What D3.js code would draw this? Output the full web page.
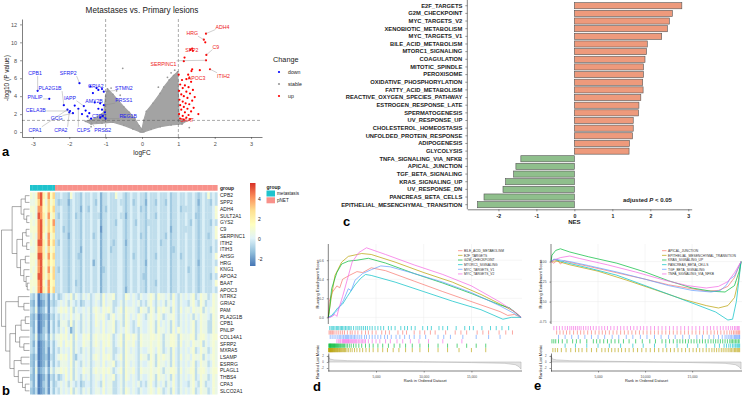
<!doctype html>
<html lang="en">
<head>
<meta charset="utf-8">
<title>Metastases vs. Primary lesions</title>
<style>
  body { margin: 0; background: #fff; }
  svg { display: block; font-family: "Liberation Sans", Arial, sans-serif; }
</style>
</head>
<body>
<div id="fig"></div>
<script src="https://d3js.org/d3.v7.min.js"></script>
<script>

//------------------ data: volcano (a)
// [logFC, -log10 p]
var upPoints = [[1.76,10.97],[1.70,10.3],[1.74,10.0],[1.38,9.3],[1.33,9.15],[1.40,9.05],[1.77,8.6],[1.76,8.0],
  [1.17,8.3],[1.15,7.9],[1.59,6.9],[1.38,7.0],[1.36,6.8],[1.87,7.0],[1.01,6.4],[1.27,6.4],[1.30,6.0],[1.22,5.9],
  [1.10,5.8],[1.35,5.6],[1.05,5.3],[1.18,5.2],[1.28,5.0],[1.12,4.9],[1.40,4.7],[1.02,4.6],[1.22,4.5],[1.32,4.3],
  [1.08,4.2],[1.15,4.0],[1.45,3.9],[1.25,3.8],[1.03,3.6],[1.38,3.5],[1.12,3.4],[1.20,3.2],[1.30,3.1],[1.05,3.0],
  [1.15,2.8],[1.42,2.7],[1.25,2.6],[1.08,2.5],[1.35,2.3],[1.18,2.2],[1.55,2.0],[1.02,2.0],[1.28,1.9],[1.12,1.8],
  [1.22,1.6],[1.05,1.5],[1.15,1.4],[1.32,1.45]];
var downPoints = [[-2.87,4.6],[-2.55,3.7],[-1.72,5.45],[-2.15,3.0],[-1.85,2.95],[-2.05,2.5],[-1.98,2.35],[-1.9,2.1],
  [-2.0,2.2],[-1.75,2.6],[-1.65,2.0],[-1.6,2.9],[-1.35,4.35],[-1.42,5.1],[-1.25,4.9],[-1.2,4.7],[-1.1,4.8],[-1.05,4.5],
  [-1.5,1.75],[-1.4,1.5],[-1.15,3.2],[-1.05,3.0],[-1.1,2.5],[-1.02,2.2],[-1.08,1.8],[-1.0,1.5],[-1.15,1.6],[-1.3,3.3],
  [-1.2,2.6],[-1.45,2.1],[-1.55,2.4]];
// outline of the dense grey (stable) cloud, and a few loose stable points
var stableOutline = [[-1.55,1.2],[-1.3,1.5],[-1.05,2.2],[-1.0,4.0],[-0.95,4.8],[-0.8,4.2],[-0.65,3.5],[-0.5,2.8],
  [-0.35,2.2],[-0.2,1.5],[-0.08,0.7],[0,0.3],[0.05,1.3],[0.12,2.3],[0.3,3.2],[0.5,4.3],[0.6,5.0],[0.75,5.8],
  [0.87,6.3],[0.98,6.7],[1.0,4.5],[1.02,1.3],[1.2,1.2],[1.1,0.9],[0.8,0.8],[0.5,0.6],[0.25,0.3],[0.05,0.03],
  [0,0],[-0.05,0.03],[-0.25,0.35],[-0.5,0.75],[-0.8,1.1],[-1.1,1.0],[-1.4,0.9]];
var stableLoose = [[-0.53,7.1],[-0.7,4.6],[-0.6,4.1],[0.7,6.1],[0.9,6.9],[0.45,5.0],[-1.25,1.1],[1.1,1.05],
  [-1.4,0.6],[1.3,0.5],[-0.85,4.9],[0.8,6.6]];
// [label, label x, label y, point x, point y]
var downLabels = [["CPB1",-2.94,6.55,-2.87,4.6],["SFRP2",-2.03,6.55,-1.72,5.45],["PLA2G1B",-2.53,4.88,-2.15,3.0],
  ["PNLIP",-2.94,3.94,-2.55,3.7],["IAPP",-1.98,3.8,-1.6,2.9],["CELA3B",-2.92,2.49,-1.98,2.35],["GCG",-2.35,1.49,-1.9,2.1],
  ["CPA1",-2.94,0.23,-2.05,2.5],["CPA2",-2.23,0.23,-2.0,2.2],["CLPS",-1.61,0.23,-1.75,2.6],["PRSS2",-1.08,0.26,-1.5,1.75],
  ["CTRC",-1.18,1.76,-1.15,1.6],["REG1B",-0.38,1.76,-1.0,1.5],["PRSS1",-0.5,3.54,-1.05,3.0],["AMY2B",-1.32,3.46,-1.15,3.2],
  ["GRIA2",-1.27,5.06,-1.25,4.9],["STMN2",-0.5,4.94,-1.05,4.5]];
var upLabels = [["ADH4",2.21,11.74,1.76,10.97],["HRG",1.38,11.0,1.70,10.3],["SPP2",1.37,9.15,1.38,9.3],
  ["C9",2.03,9.51,1.77,8.6],["SERPINC1",0.59,7.59,1.76,8.0],["APOC3",1.5,6.0,1.27,6.4],["ITIH2",2.24,6.25,1.87,7.0],
  ["BAAT",1.24,1.35,1.15,1.4]];
var volcanoXTicks = [-3,-2,-1,0,1,2,3];
var volcanoYTicks = [0,2,4,6,8,10,12];

//------------------ data: heatmap (b)
var hmGenes = ["CPB2","SPP2","ADH4","SULT2A1","GYS2","C9","SERPINC1","ITIH2","ITIH3","AHSG","HRG","KNG1","APOA2","BAAT","APOC3",
  "NTRK2","GRIA2","PAM","PLA2G1B","CPB1","PNLIP","COL14A1","SFRP2","MXRA5","LSAMP","ESRRG","PLAGL1","THBS4","CPA3","SLCO2A1"];
// one character per sample, value = levelVals[levelChars.indexOf(ch)]
var levelChars = "0123456789abc";
var levelVals = [-2.5,-2,-1.5,-1,-0.5,0,0.5,1,1.5,2,3,4,5];
var hmMetastasis = ["767bc97b8a","667ac86a79","776bb87a8a","676cb97b79","767bc96a8b","777bc97a8a","676bc86b79","767cc97b8a",
  "667bb96a79","777cc97b8a","776bc87a89","767bc97b7a","677cc97a8a","777bc86b89","767bc97b8a",
  "4350234153","3250124143","4361235154","3240123143","3250124153","4250134153","4361235264","4250124253","4350124153",
  "3240123143","3250124153","4261235264","3250124143","4250134153","3240124153"];
var hmPnet = [
  "4454437544354 4544524454475 5434544544354 4454445344544 5445434547454",
  "4344424544354 4543524454445 4434534544254 4354435344544 5445424544354",
  "4454434544254 3544524354445 5434544534354 4454445344534 4445434544457",
  "4354434534354 4544424454445 4424544544354 4354445344544 5445334544457",
  "4454434544354 4544524454435 5434543544344 4454445344544 5435434544354",
  "4453434544354 4544514454445 5434544544354 4454445244544 4445434544457",
  "4454424544354 4534524454445 5434544534354 4454435344544 5445434543457",
  "4354434544354 4544524454345 5424544544354 4453445344544 5445434544454",
  "4454434544254 4544524453445 5434544544354 4454445334544 5445434544354",
  "4454434543354 4544524454445 5434534544354 4354445344534 5445434544457",
  "4454434544354 4524524454445 5434544544254 4454445344544 5445424544454",
  "4354434544354 4544523454445 5434544544354 4454445344544 5345434544457",
  "4454434544354 4544524454445 5434544543354 4454445344544 5445434544354",
  "4454434534354 4544524454445 5434544544354 4354445344544 5445434544457",
  "4454434544354 4544524454445 5424544544354 4454445344544 5445434544454",
  "5345657465465 6456647566745 5476565465567 6476656475465 6567457664576",
  "4565646545345 5456547566445 6465565645467 5465646575465 5467547645576",
  "5676757465565 6467657676456 7476665476647 6476766475475 6657667465676",
  "5465657566465 6457667546756 6476565765467 6576456675465 6564657665476",
  "5366647465465 6457657566745 6476545765567 6475656475465 6567457664476",
  "5465752465465 6456657566745 6576545465567 6476656475765 6567457664476",
  "6676757475576 7467667676456 7477676476667 7676466776476 6677467765677",
  "5675767465576 6467657676456 7476675476667 6676466776475 6657667465676",
  "5465657465465 6456657566445 6476565465567 6576456475465 6567457664576",
  "5676757435565 6467657676456 7476665476647 6476766475475 6657667465676",
  "5466657465465 6456657566745 6476565465567 6476656475465 6567457664576",
  "6676757465576 6467667676456 7476675476667 6676466776475 6677467765677",
  "5345757465465 6456657566745 6476565465567 6476656475465 6567457664576",
  "4565646545345 5456547566445 6465565645467 5465646575465 5467547645576",
  "5465657465465 6456657566445 6476565465567 6576456475465 6567457664576"];
// row clustering: h = merge height (0 leaves .. 1 root)
var rowTree = {h:1, c:[
  {h:0.62, c:[
    {h:0.3, c:[{h:0.15, c:["CPB2","SPP2"]}, {h:0.2, c:["ADH4", {h:0.1, c:["SULT2A1","GYS2"]}]}]},
    {h:0.45, c:[
      {h:0.25, c:[{h:0.12, c:["C9","SERPINC1"]}, {h:0.1, c:["ITIH2","ITIH3"]}]},
      {h:0.32, c:[{h:0.15, c:["AHSG","HRG"]}, {h:0.2, c:["KNG1", {h:0.12, c:["APOA2", {h:0.08, c:["BAAT","APOC3"]}]}]}]}]}]},
  {h:0.85, c:[
    {h:0.4, c:["NTRK2", {h:0.2, c:["GRIA2","PAM"]}]},
    {h:0.7, c:[
      {h:0.5, c:[{h:0.3, c:[{h:0.15, c:["PLA2G1B","CPB1"]}, "PNLIP"]}, {h:0.35, c:["COL14A1", {h:0.2, c:["SFRP2","MXRA5"]}]}]},
      {h:0.55, c:[{h:0.3, c:["LSAMP","ESRRG"]}, {h:0.4, c:["PLAGL1", {h:0.25, c:["THBS4", {h:0.15, c:["CPA3","SLCO2A1"]}]}]}]}]}]}]};
var hmLegendTicks = [-2,0,2,4];
var hmPalette = ["#4575B4","#91BFDB","#E0F3F8","#FFFFBF","#FEE090","#FC8D59","#D73027"];

//------------------ data: NES bars (c)
var pathways = ["E2F_TARGETS","G2M_CHECKPOINT","MYC_TARGETS_V2","XENOBIOTIC_METABOLISM","MYC_TARGETS_V1",
  "BILE_ACID_METABOLISM","MTORC1_SIGNALING","COAGULATION","MITOTIC_SPINDLE","PEROXISOME","OXIDATIVE_PHOSPHORYLATION",
  "FATTY_ACID_METABOLISM","REACTIVE_OXYGEN_SPECIES_PATHWAY","ESTROGEN_RESPONSE_LATE","SPERMATOGENESIS","UV_RESPONSE_UP",
  "CHOLESTEROL_HOMEOSTASIS","UNFOLDED_PROTEIN_RESPONSE","ADIPOGENESIS","GLYCOLYSIS","TNFA_SIGNALING_VIA_NFKB",
  "APICAL_JUNCTION","TGF_BETA_SIGNALING","KRAS_SIGNALING_UP","UV_RESPONSE_DN","PANCREAS_BETA_CELLS",
  "EPITHELIAL_MESENCHYMAL_TRANSITION"];
var nesValues = [2.83,2.58,2.50,2.45,2.30,1.92,1.90,1.86,1.82,1.82,1.80,1.81,1.75,1.70,1.69,1.55,1.55,1.53,1.45,1.44,
  -1.41,-1.54,-1.60,-1.81,-1.88,-2.38,-2.55];
var nesTicks = [-2,-1,0,1,2,3];

//------------------ data: GSEA (d, e)   [rank, running ES]
var esBileAcid = [[0,0],[100,0.17],[400,0.26],[900,0.33],[1200,0.31],[1500,0.4],[2200,0.44],[3000,0.48],[3600,0.47],[4500,0.52],[6000,0.49],[9000,0.38],[12000,0.27],[14000,0.2],[16000,0.13],[18000,0.06],[18800,0.02],[19500,0.03],[20200,0]];
var esE2f = [[0,0],[300,0.2],[700,0.44],[1000,0.5],[1400,0.58],[2100,0.64],[3500,0.67],[4500,0.66],[7000,0.58],[10000,0.47],[13000,0.37],[16000,0.24],[18000,0.14],[19500,0.06],[20200,0]];
var esG2m = [[0,0],[100,0.06],[350,0.3],[600,0.38],[900,0.47],[1400,0.56],[2100,0.59],[3000,0.6],[4200,0.62],[6000,0.57],[9000,0.46],[12000,0.36],[15000,0.25],[18000,0.13],[19000,0.1],[20200,0]];
var esMtorc1 = [[0,0],[350,0.02],[700,0.06],[1000,0.1],[1500,0.14],[2000,0.22],[2800,0.34],[3400,0.41],[3900,0.45],[4500,0.44],[7000,0.37],[10000,0.27],[13000,0.17],[16000,0.08],[18300,-0.02],[19200,0.0],[20200,0]];
var esMycV1 = [[0,0],[400,0.01],[700,0.05],[1000,0.08],[1600,0.18],[2100,0.3],[2400,0.28],[2800,0.39],[3600,0.46],[4500,0.5],[5500,0.54],[6500,0.53],[9000,0.46],[12000,0.37],[15000,0.26],[18000,0.12],[19500,0.04],[20200,0]];
var esMycV2 = [[0,0],[200,0.0],[700,0.03],[900,0.01],[1100,0.09],[1500,0.22],[2000,0.4],[2500,0.58],[3200,0.68],[4000,0.73],[6000,0.66],[9000,0.55],[12000,0.45],[15000,0.33],[18000,0.16],[19800,0.04],[20200,0]];
var esApical = [[0,0],[300,-0.02],[700,0.02],[1000,-0.03],[1400,0.01],[2000,-0.01],[4000,-0.06],[7000,-0.14],[10000,-0.22],[12500,-0.29],[15000,-0.34],[16500,-0.37],[17800,-0.36],[18800,-0.31],[19500,-0.2],[20000,-0.05],[20200,0]];
var esEmt = [[0,0],[500,0.01],[2000,-0.04],[5000,-0.12],[8000,-0.23],[11000,-0.35],[14000,-0.47],[16500,-0.55],[17800,-0.58],[18800,-0.55],[19500,-0.45],[19900,-0.25],[20200,0]];
var esKras = [[0,0],[100,0.08],[500,0.14],[1000,0.16],[2000,0.12],[4000,0.06],[7000,-0.02],[10000,-0.13],[12500,-0.24],[15000,-0.33],[17000,-0.37],[18500,-0.38],[19500,-0.3],[20000,-0.12],[20200,0]];
var esPancreas = [[0,0],[300,0.03],[1500,-0.01],[4000,-0.08],[7000,-0.17],[10000,-0.3],[13000,-0.43],[15500,-0.54],[17500,-0.63],[18800,-0.73],[19300,-0.72],[19700,-0.5],[20000,-0.2],[20200,0]];
var esTgf = [[0,0],[400,0.03],[2000,0.0],[4000,-0.05],[7000,-0.13],[10000,-0.22],[12500,-0.3],[15000,-0.36],[17000,-0.38],[18000,-0.36],[18600,-0.3],[19000,-0.22],[19500,-0.18],[19900,-0.08],[20200,0]];
var esTnfa = [[0,0],[300,0.02],[1000,0.05],[2000,0.07],[3000,0.04],[6000,-0.04],[9000,-0.13],[12000,-0.23],[14500,-0.3],[16500,-0.33],[17800,-0.31],[18800,-0.25],[19500,-0.14],[20000,-0.04],[20200,0]];

var hitsMtorc1 = [150,300,420,560,700,850,980,1100,1250,1380,1500,1650,1800,1950,2100,2250,2400,2650,2900,3100,3300,3500,3700,3900,4100,4350,4600,4900,5200,5500,5800,6300,6600,7000,7600,8000,8300,8700,9100,9900,10400,10800,11600,12000,12500,13400,14300,14800,15200,16100,17000,17600,18200,18900];
var hitsBileAcid = [80,200,300,420,520,700,900,1100,1300,1500,1700,2000,2300,2500,2800,3100,3500,3900,4200,4600,5000,5600,6000,6400,7300,7800,8200,9000,9600,10100,10700,11200,12300,13300,13900,14500,15600,16200,16800,17900,18600,19300];
var hitsMycV1 = [200,400,600,800,1000,1150,1300,1450,1600,1750,1850,1950,2050,2150,2300,2450,2600,2750,2900,3100,3300,3500,3800,4000,4300,4600,4900,5200,5500,5900,6200,6600,7100,7500,8000,8500,9000,9600,10200,11500,12100,12800,14100,15500,16800,18000];
var hitsMycV2 = [900,1050,1200,1300,1450,1520,1600,1680,1750,1820,1900,1980,2050,2120,2200,2300,2400,2500,2600,2700,2800,2900,3000,3150,3300,3450,3600,3750,3900,4200,4600,5000,5400,6000,6500,7200,7800,8600,9500,10500,12000,14000];
var hitsG2m = [50,100,140,180,220,260,300,350,400,450,500,550,600,650,700,760,820,880,940,1000,1080,1150,1230,1300,1400,1500,1600,1700,1850,2000,2200,2400,2650,2900,3200,3500,3900,4300,4700,5200,5700,6300,6900,7500,8100,8800,9600,10500,11500,12500,13500,14500,15500,16500];
var hitsE2f = [30,60,100,130,170,200,240,270,310,350,390,430,470,520,570,620,670,720,780,840,900,960,1030,1100,1170,1250,1320,1400,1500,1600,1700,1800,1950,2100,2300,2500,2750,3000,3300,3600,3950,4300,4700,5200,5700,6200,6800,7400,8100,8800,9600,10500,11500,12500,13700,15000,16500];
var hitsTnfa = [300,600,900,1200,1500,1750,2000,2200,2400,2600,2800,3000,3200,3450,3700,3950,4200,4500,4800,5100,5400,5700,6000,6350,6700,7050,7400,7750,8100,8450,8800,9150,9500,9850,10200,10600,11000,11400,11800,12200,12600,13000,13400,13800,14200,14600,15000,15400,15800,16200,16600,16950,17300,17650,18000,18300,18600,18850,19100,19300,19500,19650,19800,19900,20000];
var hitsApical = [600,950,1300,1650,2000,2400,2800,3150,3500,3900,4300,4700,5100,5450,5800,6200,6600,7000,7400,7800,8200,8600,9000,9400,9800,10200,10600,11000,11400,11800,12200,12600,13000,13400,13800,14200,14600,15000,15400,15800,16200,16600,17000,17350,17700,18050,18400,18700,19000,19200,19400,19550,19700,19850,19950,20050];
var hitsTgf = [800,1500,2200,2900,3600,4300,5000,5700,6500,7200,8000,8700,9500,10200,11000,11700,12500,13200,14000,14700,15500,16100,16800,17300,17800,18200,18500,18700,18900,19050,19200,19350,19500,19600,19700,19800,19900,20000,20050];
var hitsKras = [100,300,500,800,1200,1700,2300,2700,3100,3800,4500,4850,5200,5600,6000,6400,6800,7200,7700,8300,9000,9700,10500,11100,11800,12200,12600,13000,13400,13700,14000,14300,14600,14900,15200,15500,15800,16100,16400,16700,17000,17250,17500,17750,18000,18250,18500,18750,19000,19150,19300,19450,19600,19750,19900,20000];
var hitsPancreas = [1500,2600,3800,5000,6200,7400,8700,9800,11000,12200,13400,14500,15600,16500,17400,17900,18400,18650,18900,19100,19300,19450,19600,19750,19850,19950,20050];
var hitsEmt = [200,450,700,1100,1600,2100,2600,2950,3300,3800,4300,4850,5400,5750,6100,6450,6800,7150,7500,7900,8300,8750,9200,9650,10100,10550,11000,11450,11900,12300,12700,13100,13500,13900,14300,14700,15100,15450,15800,16150,16500,16800,17100,17350,17600,17850,18100,18300,18500,18700,18900,19050,19200,19350,19500,19620,19750,19850,19950,20050];
// ranked list metric [rank, value]
var rankMetric = [[0,2.2],[150,1.0],[600,0.7],[2000,0.45],[5000,0.3],[10000,0.05],[15000,-0.2],[18500,-0.45],[19600,-0.9],[20000,-1.6],[20200,-2.4]];
var rankTicks = [5000,10000,15000];
var setColors = ["#F8766D","#B79F00","#00BA38","#00BFC4","#619CFF","#F564E3"];

//------------------ set up svg
var FONT = "'Liberation Sans', Arial, sans-serif";
var svg = d3.select("#fig").append("svg").attr("width", 743).attr("height", 399);

function styleAxis(g, fs, bold) {
  g.attr("font-family", FONT).attr("font-size", fs);
  g.select(".domain").attr("stroke", "#000").attr("stroke-width", 0.5);
  g.selectAll(".tick line").attr("stroke", "#333").attr("stroke-width", 0.5);
  g.selectAll(".tick text").attr("fill", bold ? "#222" : "#4d4d4d").attr("font-weight", bold ? "bold" : null);
}
function panelLabel(t, x, y) {
  svg.append("text").text(t).attr("x", x).attr("y", y).attr("font-size", 13).attr("font-weight", "bold").attr("fill", "#000");
}

//------------------ a: volcano
var xV = d3.scaleLinear().domain([-3.3, 3.3]).range([22, 262]);
var yV = d3.scaleLinear().domain([-0.55, 12.6]).range([137, 19]);
var gA = svg.append("g");

gA.append("path").datum(stableOutline)
  .attr("d", d3.line().x(function(d){ return xV(d[0]); }).y(function(d){ return yV(d[1]); }).curve(d3.curveLinearClosed))
  .attr("fill", "#a3a3a3").attr("stroke", "#a3a3a3").attr("stroke-width", 1.2);
gA.selectAll(".st").data(stableOutline.concat(stableLoose)).enter().append("circle")
  .attr("cx", function(d){ return xV(d[0]); }).attr("cy", function(d){ return yV(d[1]); })
  .attr("r", 0.9).attr("fill", "#999");

[-1, 1].forEach(function(v) {
  gA.append("line").attr("x1", xV(v)).attr("x2", xV(v)).attr("y1", 19).attr("y2", 137)
    .attr("stroke", "#555").attr("stroke-width", 0.5).attr("stroke-dasharray", "3,2");
});
gA.append("line").attr("x1", 22).attr("x2", 262).attr("y1", yV(1.3)).attr("y2", yV(1.3))
  .attr("stroke", "#555").attr("stroke-width", 0.5).attr("stroke-dasharray", "3,2");

gA.selectAll(".up").data(upPoints).enter().append("circle")
  .attr("cx", function(d){ return xV(d[0]); }).attr("cy", function(d){ return yV(d[1]); })
  .attr("r", 1.1).attr("fill", "#ff0000");
gA.selectAll(".dn").data(downPoints).enter().append("circle")
  .attr("cx", function(d){ return xV(d[0]); }).attr("cy", function(d){ return yV(d[1]); })
  .attr("r", 1.1).attr("fill", "#0000ff");

// repelled labels with leader lines
function volcanoLabels(list, col) {
  var lines = gA.append("g"), texts = gA.append("g");
  list.forEach(function(d) {
    var t = texts.append("text").text(d[0]).attr("x", xV(d[1])).attr("y", yV(d[2]) + 1.8)
      .attr("text-anchor", "middle").attr("font-size", 5.2).attr("fill", col);
    var b = t.node().getBBox();
    var px = xV(d[3]), py = yV(d[4]);
    var cx = Math.max(b.x, Math.min(px, b.x + b.width)), cy = Math.max(b.y, Math.min(py, b.y + b.height));
    if (Math.hypot(cx - px, cy - py) > 4) {
      lines.append("line").attr("x1", px).attr("y1", py).attr("x2", cx).attr("y2", cy)
        .attr("stroke", "#888").attr("stroke-width", 0.4);
    }
  });
}
volcanoLabels(downLabels, "#2020ee");
volcanoLabels(upLabels, "#ee2020");

var axVy = gA.append("g").attr("transform", "translate(22,0)")
  .call(d3.axisLeft(yV).tickValues(volcanoYTicks).tickSize(2).tickSizeOuter(0).tickFormat(function(d){ return String(d); }));
styleAxis(axVy, 5.5);
var axVx = gA.append("g").attr("transform", "translate(0,137)")
  .call(d3.axisBottom(xV).tickValues(volcanoXTicks).tickSize(2).tickSizeOuter(0).tickFormat(function(d){ return String(d); }));
styleAxis(axVx, 5.5);

gA.append("text").text("Metastases vs. Primary lesions").attr("x", 142).attr("y", 13)
  .attr("text-anchor", "middle").attr("font-size", 8.2).attr("fill", "#222");
gA.append("text").text("logFC").attr("x", 142).attr("y", 155)
  .attr("text-anchor", "middle").attr("font-size", 6.5).attr("fill", "#222");
gA.append("text").text("-log10 (P value)").attr("transform", "translate(9,78) rotate(-90)")
  .attr("text-anchor", "middle").attr("font-size", 6.5).attr("fill", "#222");

// legend
var changeNames = ["down", "stable", "up"], changeCols = ["#0000ff", "#999", "#ff0000"];
gA.append("text").text("Change").attr("x", 273).attr("y", 62).attr("font-size", 7.3).attr("fill", "#222");
changeNames.forEach(function(n, i) {
  gA.append("circle").attr("cx", 279).attr("cy", 72 + i * 12).attr("r", 1.1).attr("fill", changeCols[i]);
  gA.append("text").text(n).attr("x", 288).attr("y", 74 + i * 12).attr("font-size", 5.2).attr("fill", "#222");
});
panelLabel("a", 2, 156);

//------------------ b: heatmap
var nMeta = hmMetastasis[0].length;
var hmRows = hmGenes.map(function(g, i) {
  var s = hmMetastasis[i] + hmPnet[i].replace(/ /g, "");
  return s.split("").map(function(ch) { return levelVals[levelChars.indexOf(ch)]; });
});
var nCols = hmRows[0].length;
var hmX = d3.scaleBand().domain(d3.range(nCols)).range([30, 217.3]);
var hmY = d3.scaleBand().domain(hmGenes).range([192.3, 394.2]);
var hmColor = d3.scaleLinear().domain(hmPalette.map(function(c, i){ return -2.7 + i * 8.3 / 6; })).range(hmPalette);
var gB = svg.append("g");

hmRows.forEach(function(row, r) {
  gB.selectAll(null).data(row).enter().append("rect")
    .attr("x", function(d, c){ return hmX(c); }).attr("y", hmY(hmGenes[r]))
    .attr("width", hmX.bandwidth() + 0.3).attr("height", hmY.bandwidth() + 0.3)
    .attr("fill", function(d){ return hmColor(d); });
});
var groupCols = {metastasis: "#1FC3CD", pNET: "#F8918A"};
gB.selectAll(".ann").data(d3.range(nCols)).enter().append("rect")
  .attr("x", function(c){ return hmX(c); }).attr("y", 185).attr("width", hmX.bandwidth() + 0.3).attr("height", 5.7)
  .attr("fill", function(c){ return c < nMeta ? groupCols.metastasis : groupCols.pNET; });
gB.append("text").text("group").attr("x", 220).attr("y", 190).attr("font-size", 5).attr("font-weight", "bold").attr("fill", "#222");
gB.selectAll(".rl").data(hmGenes).enter().append("text").text(function(d){ return d; })
  .attr("x", 220).attr("y", function(d){ return hmY(d) + hmY.bandwidth() / 2 + 1.8; })
  .attr("font-size", 5).attr("fill", "#222");

// dendrogram
var xDen = d3.scaleLinear().domain([0, 1]).range([29.5, 1.5]);
var denG = gB.append("g").attr("stroke", "#555").attr("stroke-width", 0.5);
function layoutTree(node) {
  if (typeof node === "string") return {x: xDen(0), y: hmY(node) + hmY.bandwidth() / 2};
  var kids = node.c.map(layoutTree);
  var x = xDen(node.h);
  var y = (kids[0].y + kids[kids.length - 1].y) / 2;
  kids.forEach(function(k) {
    denG.append("line").attr("x1", x).attr("x2", k.x).attr("y1", k.y).attr("y2", k.y);
  });
  denG.append("line").attr("x1", x).attr("x2", x).attr("y1", kids[0].y).attr("y2", kids[kids.length - 1].y);
  return {x: x, y: y};
}
layoutTree(rowTree);

// colour legend
var grad = svg.append("defs").append("linearGradient").attr("id", "hmgrad")
  .attr("x1", 0).attr("y1", 1).attr("x2", 0).attr("y2", 0);
hmPalette.forEach(function(c, i) { grad.append("stop").attr("offset", i / 6).attr("stop-color", c); });
gB.append("rect").attr("x", 250).attr("y", 183).attr("width", 5.5).attr("height", 83).attr("fill", "url(#hmgrad)");
var yL = d3.scaleLinear().domain([-2.7, 5.6]).range([266, 183]);
gB.selectAll(".lt").data(hmLegendTicks).enter().append("text").text(function(d){ return String(d); })
  .attr("x", 258).attr("y", function(d){ return yL(d) + 1.8; }).attr("font-size", 5).attr("fill", "#222");
gB.append("text").text("group").attr("x", 266.5).attr("y", 189).attr("font-size", 5).attr("font-weight", "bold").attr("fill", "#222");
[["metastasis", groupCols.metastasis], ["pNET", groupCols.pNET]].forEach(function(d, i) {
  gB.append("rect").attr("x", 266.5).attr("y", 190.5 + i * 6.8).attr("width", 8.5).attr("height", 6).attr("fill", d[1]);
  gB.append("text").text(d[0]).attr("x", 277).attr("y", 195.3 + i * 6.8).attr("font-size", 4.6).attr("fill", "#222");
});
panelLabel("b", 2, 395);

//------------------ c: NES bars
var xC = d3.scaleLinear().domain([-2.82, 3.09]).range([467.3, 691.7]);
var yC = d3.scaleBand().domain(pathways).range([1.9, 208.5]).paddingInner(0.2).paddingOuter(0.1);
var gC = svg.append("g");
gC.selectAll(".bar").data(pathways).enter().append("rect")
  .attr("x", function(d, i){ return xC(Math.min(0, nesValues[i])); })
  .attr("width", function(d, i){ return Math.abs(xC(nesValues[i]) - xC(0)); })
  .attr("y", function(d){ return yC(d); }).attr("height", yC.bandwidth())
  .attr("fill", function(d, i){ return nesValues[i] > 0 ? "#EE9A7C" : "#8FBF8C"; })
  .attr("stroke", "#555").attr("stroke-width", 0.6);
var axCy = gC.append("g").attr("transform", "translate(467.3,0)")
  .call(d3.axisLeft(yC).tickSize(2).tickSizeOuter(0));
styleAxis(axCy, 5.8, true);
axCy.select(".domain").attr("d", "M0,0V209.3");
var axCx = gC.append("g").attr("transform", "translate(0,209.3)")
  .call(d3.axisBottom(xC).tickValues(nesTicks).tickSize(2).tickSizeOuter(0).tickFormat(function(d){ return String(d); }));
styleAxis(axCx, 5.2, true);
gC.append("text").text("NES").attr("x", xC(0)).attr("y", 224).attr("text-anchor", "middle")
  .attr("font-size", 6).attr("font-weight", "bold").attr("fill", "#222");
var adj = gC.append("text").attr("x", 623).attr("y", 202).attr("font-size", 6).attr("font-weight", "bold").attr("fill", "#222");
adj.append("tspan").text("adjusted  ");
adj.append("tspan").text("P").attr("font-style", "italic");
adj.append("tspan").text(" < 0.05");
panelLabel("c", 343, 226);

//------------------ d, e: GSEA plots
function drawGsea(cfg) {
  var g = svg.append("g");
  var x = d3.scaleLinear().domain([0, 20300]).range([cfg.x0, cfg.x1]);
  var y = d3.scaleLinear().domain(cfg.esDomain).range([324, 244]);
  g.selectAll(".vg").data(rankTicks).enter().append("line")
    .attr("x1", function(d){ return x(d); }).attr("x2", function(d){ return x(d); }).attr("y1", 244).attr("y2", 324)
    .attr("stroke", "#ebebeb").attr("stroke-width", 0.5);
  g.selectAll(".hg").data(cfg.esTicks).enter().append("line")
    .attr("x1", cfg.x0).attr("x2", cfg.x1).attr("y1", function(d){ return y(d); }).attr("y2", function(d){ return y(d); })
    .attr("stroke", "#ebebeb").attr("stroke-width", 0.5);
  var line = d3.line().x(function(d){ return x(d[0]); }).y(function(d){ return y(d[1]); });
  cfg.curves.forEach(function(c, i) {
    g.append("path").datum(c).attr("d", line).attr("fill", "none")
      .attr("stroke", setColors[i]).attr("stroke-width", 0.7);
  });
  var ay = g.append("g").attr("transform", "translate(" + cfg.x0 + ",0)")
    .call(d3.axisLeft(y).tickValues(cfg.esTicks).tickSize(1.5).tickSizeOuter(0).tickFormat(cfg.fmt));
  styleAxis(ay, 3.3);
  ay.select(".domain").attr("d", "M0,244V324");

  // hit rugs
  cfg.rugOrder.forEach(function(k, i) {
    var y0 = 326 + i * 4.4;
    g.selectAll(null).data(cfg.hits[k]).enter().append("line")
      .attr("x1", function(d){ return x(d); }).attr("x2", function(d){ return x(d); })
      .attr("y1", y0).attr("y2", y0 + 4.2)
      .attr("stroke", setColors[k]).attr("stroke-width", 0.8).attr("stroke-opacity", 0.8);
  });

  // ranked list metric
  var yM = d3.scaleLinear().domain([-3, 3]).range([371, 353]);
  g.append("path").datum(rankMetric)
    .attr("d", d3.area().x(function(d){ return x(d[0]); }).y0(yM(0)).y1(function(d){ return yM(d[1]); }))
    .attr("fill", "#e3e3e3").attr("stroke", "#aaa").attr("stroke-width", 0.5);
  var am = g.append("g").attr("transform", "translate(" + cfg.x0 + ",0)")
    .call(d3.axisLeft(yM).tickValues([-2, 0, 2]).tickSize(1.5).tickSizeOuter(0).tickFormat(function(d){ return String(d); }));
  styleAxis(am, 2.8);
  var ax = g.append("g").attr("transform", "translate(0,371)")
    .call(d3.axisBottom(x).tickValues(rankTicks).tickSize(1.5).tickSizeOuter(0));
  styleAxis(ax, 3.3);
  ax.select(".domain").attr("d", "M" + cfg.x0 + ",0H" + cfg.x1);

  g.append("text").text("Rank in Ordered Dataset").attr("x", (cfg.x0 + cfg.x1) / 2).attr("y", 382)
    .attr("text-anchor", "middle").attr("font-size", 3.9).attr("fill", "#222");
  g.append("text").text("Running Enrichment Score").attr("transform", "translate(" + (cfg.x0 - 9) + ",284) rotate(-90)")
    .attr("text-anchor", "middle").attr("font-size", 4.1).attr("fill", "#222");
  g.append("text").text("Ranked List Metric").attr("transform", "translate(" + (cfg.x0 - 9) + ",362) rotate(-90)")
    .attr("text-anchor", "middle").attr("font-size", 4.1).attr("fill", "#222");

  cfg.names.forEach(function(n, i) {
    var ly = 250.7 + i * 4.65;
    g.append("line").attr("x1", cfg.legX).attr("x2", cfg.legX + 4.5).attr("y1", ly).attr("y2", ly)
      .attr("stroke", setColors[i]).attr("stroke-width", 0.7);
    g.append("text").text(n).attr("x", cfg.legX + 6).attr("y", ly + 1.2).attr("font-size", 3.3).attr("fill", "#333");
  });
}

drawGsea({
  x0: 328.3, x1: 522, esDomain: [-0.07, 0.77], esTicks: [0, 0.2, 0.4, 0.6],
  fmt: function(d){ return d.toFixed(1); },
  names: ["BILE_ACID_METABOLISM","E2F_TARGETS","G2M_CHECKPOINT","MTORC1_SIGNALING","MYC_TARGETS_V1","MYC_TARGETS_V2"],
  curves: [esBileAcid, esE2f, esG2m, esMtorc1, esMycV1, esMycV2],
  hits: [hitsBileAcid, hitsE2f, hitsG2m, hitsMtorc1, hitsMycV1, hitsMycV2],
  rugOrder: [3, 0, 4, 5, 2, 1], legX: 458
});
drawGsea({
  x0: 551, x1: 742, esDomain: [-0.78, 0.22], esTicks: [0, -0.25, -0.5, -0.75],
  fmt: function(d){ return d.toFixed(2); },
  names: ["APICAL_JUNCTION","EPITHELIAL_MESENCHYMAL_TRANSITION","KRAS_SIGNALING_UP","PANCREAS_BETA_CELLS","TGF_BETA_SIGNALING","TNFA_SIGNALING_VIA_NFKB"],
  curves: [esApical, esEmt, esKras, esPancreas, esTgf, esTnfa],
  hits: [hitsApical, hitsEmt, hitsKras, hitsPancreas, hitsTgf, hitsTnfa],
  rugOrder: [5, 0, 4, 2, 3, 1], legX: 662
});
panelLabel("d", 313, 391);
panelLabel("e", 534, 390);

</script>
</body>
</html>
